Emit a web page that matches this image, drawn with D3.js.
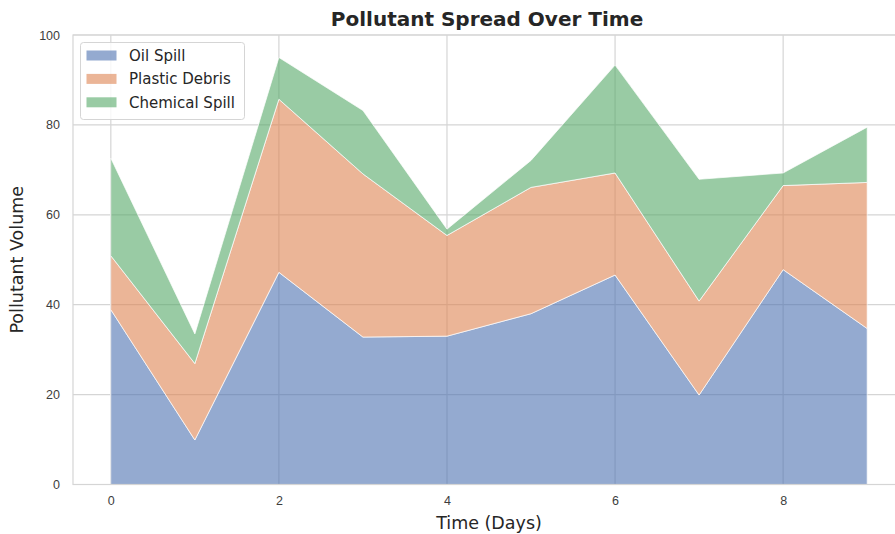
<!DOCTYPE html>
<html>
<head>
<meta charset="utf-8">
<script src="https://cdn.jsdelivr.net/npm/d3@7"></script>
<style>
  body { margin: 0; background: #fff; }
  svg { font-family: "DejaVu Sans", sans-serif; display: block; }
</style>
</head>
<body>
<svg id="chart" width="895" height="534"></svg>
<script>
// data
const days = [0, 1, 2, 3, 4, 5, 6, 7, 8, 9]
const oilSpill = [38.9, 9.9, 47.2, 32.8, 33.0, 38.0, 46.6, 19.9, 47.8, 34.7]
const plasticDebris = [12.0, 17.0, 38.5, 36.3, 22.4, 28.1, 22.7, 20.9, 18.7, 32.5]
const chemicalSpill = [21.7, 6.6, 9.3, 14.1, 1.4, 6.0, 24.0, 27.1, 2.8, 12.3]
const seriesNames = ['Oil Spill', 'Plastic Debris', 'Chemical Spill']
const seriesColors = ['#4C72B0', '#DD8452', '#55A868']
const xTicks = [0, 2, 4, 6, 8]
const yTicks = [0, 20, 40, 60, 80, 100]

const svg = d3.select('#chart')
const margin = {left: 73, top: 35, bottom: 49}
const height = 534

const rows = days.map((d, i) => ({
    day: d,
    'Oil Spill': oilSpill[i],
    'Plastic Debris': plasticDebris[i],
    'Chemical Spill': chemicalSpill[i]
}))

const stacked = d3.stack().keys(seriesNames)(rows)

// matplotlib-style 5% x margins; the right edge runs off the canvas like the original
const xScale = d3.scaleLinear()
    .domain([-0.45, 9.45])
    .range([margin.left, 905])

const yScale = d3.scaleLinear()
    .domain([0, 100])
    .range([height - margin.bottom - 0.5, margin.top])

const gridColor = '#d5d5d5'

// grid
const grid = svg.append('g')
grid.selectAll('.gx')
    .data(xTicks)
    .join('line')
    .attr('x1', d => xScale(d)).attr('x2', d => xScale(d))
    .attr('y1', yScale(0)).attr('y2', yScale(100))
    .attr('stroke', gridColor)
    .attr('stroke-width', 1.2)
grid.selectAll('.gy')
    .data(yTicks)
    .join('line')
    .attr('x1', xScale(-0.45)).attr('x2', 895)
    .attr('y1', d => yScale(d)).attr('y2', d => yScale(d))
    .attr('stroke', gridColor)
    .attr('stroke-width', 1.2)

// stacked areas
const area = d3.area()
    .x(d => xScale(d.data.day))
    .y0(d => yScale(d[0]))
    .y1(d => yScale(d[1]))

svg.append('g')
    .selectAll('path')
    .data(stacked)
    .join('path')
    .attr('d', area)
    .attr('fill', (d, i) => seriesColors[i])
    .attr('fill-opacity', 0.6)
    .attr('stroke', '#ffffff')
    .attr('stroke-opacity', 0.7)
    .attr('stroke-width', 1)

// spines (left + bottom + top, right one is off canvas)
svg.append('rect')
    .attr('x', xScale(-0.45))
    .attr('y', yScale(100))
    .attr('width', 895)
    .attr('height', yScale(0) - yScale(100))
    .attr('fill', 'none')
    .attr('stroke', gridColor)
    .attr('stroke-width', 1.2)

// axes
const xAxis = svg.append('g')
    .attr('transform', `translate(0,${yScale(0)})`)
    .call(d3.axisBottom(xScale).tickValues(xTicks).tickSize(0).tickPadding(12))
xAxis.select('.domain').remove()
xAxis.selectAll('text').attr('font-size', 12.5).attr('fill', '#3d3d3d')

const yAxis = svg.append('g')
    .attr('transform', `translate(${xScale(-0.45)},0)`)
    .call(d3.axisLeft(yScale).tickValues(yTicks).tickSize(0).tickPadding(13))
yAxis.select('.domain').remove()
yAxis.selectAll('text').attr('font-size', 12.5).attr('fill', '#3d3d3d')

// title and labels
svg.append('text')
    .attr('x', 487)
    .attr('y', 26)
    .attr('text-anchor', 'middle')
    .attr('font-size', 20)
    .attr('font-weight', 'bold')
    .attr('fill', '#262626')
    .text('Pollutant Spread Over Time')

svg.append('text')
    .attr('x', 489)
    .attr('y', 529)
    .attr('text-anchor', 'middle')
    .attr('font-size', 17.5)
    .attr('fill', '#262626')
    .text('Time (Days)')

svg.append('text')
    .attr('transform', `translate(23,${(yScale(0) + yScale(100)) / 2}) rotate(-90)`)
    .attr('text-anchor', 'middle')
    .attr('font-size', 17.5)
    .attr('fill', '#262626')
    .text('Pollutant Volume')

// legend
const legend = svg.append('g').attr('transform', 'translate(80.5,42.5)')
legend.append('rect')
    .attr('width', 164)
    .attr('height', 77)
    .attr('rx', 3)
    .attr('fill', '#ffffff')
    .attr('fill-opacity', 0.8)
    .attr('stroke', '#d5d5d5')

seriesNames.forEach((name, i) => {
    const row = legend.append('g').attr('transform', `translate(0,${8 + i * 23.4})`)
    row.append('rect')
        .attr('x', 6)
        .attr('y', 0)
        .attr('width', 30)
        .attr('height', 10)
        .attr('fill', seriesColors[i])
        .attr('fill-opacity', 0.6)
    row.append('text')
        .attr('x', 48.5)
        .attr('y', 10.5)
        .attr('font-size', 15)
        .attr('fill', '#262626')
        .text(name)
})
</script>
</body>
</html>
